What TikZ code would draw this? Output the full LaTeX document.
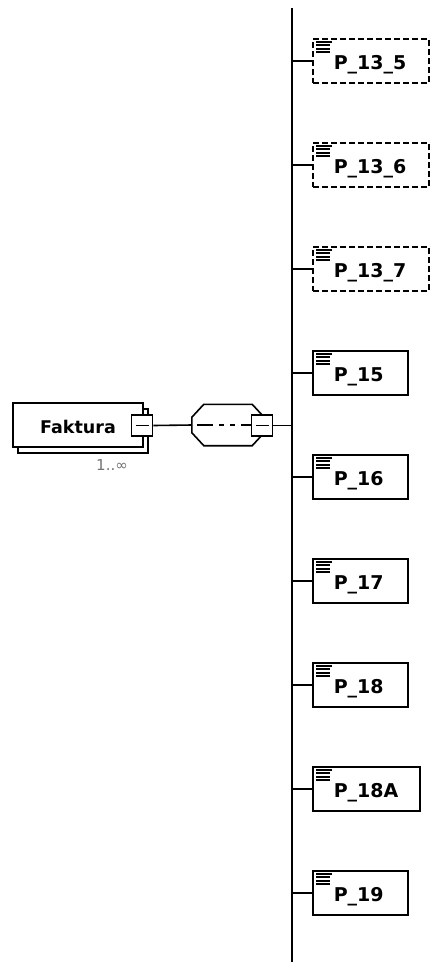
\documentclass[tikz,border=0pt]{standalone}
\usepackage{fontspec}
\setmainfont{DejaVu Sans}
\usetikzlibrary{positioning,calc,shadows}
\tikzset{
  elembox/.style={rectangle, draw=black, line width=1.6pt, fill=white,
                  minimum width=130pt, minimum height=44pt,
                  text height=18pt, text depth=2pt,
                  font=\fontsize{17.5}{20}\selectfont\bfseries},
  leafbox/.style={rectangle, draw=black, line width=1.6pt, fill=white,
                  anchor=west, minimum height=44pt, inner xsep=21pt,
                  align=left, text height=18pt, text depth=2pt,
                  font=\fontsize{19}{22}\selectfont\bfseries},
  reqbox/.style={leafbox},
  optbox/.style={leafbox, dash pattern=on 6pt off 3pt},
  minusbox/.style={rectangle, draw=black, line width=1.6pt, fill=white,
                   minimum width=21pt, minimum height=21pt, inner sep=0pt,
                   path picture={\draw[line width=1.4pt]
                     ([xshift=4pt]path picture bounding box.west) --
                     ([xshift=-4pt]path picture bounding box.east);}},
  seqbox/.style={rectangle, fill=white, minimum width=72pt,
                 minimum height=41pt, inner sep=0pt,
                 path picture={
                   \draw[line width=1.6pt]
                     ([xshift=5pt]path picture bounding box.west) --
                     (path picture bounding box.east);
                   \foreach \dx in {-12,-1,10}
                     \fill ([xshift=\dx pt]path picture bounding box.center)
                       +(-3,-3) rectangle +(3,3);}},
  conn/.style={line width=1.6pt},
}
\begin{document}
\begin{tikzpicture}[x=1pt, y=-1pt]
  \useasboundingbox (0,0) rectangle (430,962);

  % bus of the sequence
  \coordinate (bustop) at (292,8);
  \coordinate (busbot) at (292,962);
  \draw[conn] (bustop) -- (busbot);

  % element Faktura with its sequence
  \node[elembox, copy shadow={shadow xshift=5pt, shadow yshift=-6pt}]
    (faktura) at (78,425) {Faktura};
  \node[minusbox] (faktminus) at (142,425.5) {};
  \node[font=\fontsize{15}{17}\selectfont, text=black!55]
    (mult) at (112,465) {1..∞};
  \node[seqbox] (seq) at (228,425) {};
  \draw[conn] ([xshift=12pt]seq.north west) -- ([xshift=-12pt]seq.north east)
    -- ([yshift=-13pt]seq.north east) -- ([yshift=13pt]seq.south east)
    -- ([xshift=-12pt]seq.south east) -- ([xshift=12pt]seq.south west)
    -- ([yshift=13pt]seq.south west) -- ([yshift=-13pt]seq.north west)
    -- cycle;
  \node[minusbox] (seqminus) at (262,425.5) {};
  \draw[conn] (faktminus.east) -- (seq.west);
  \draw[conn] (seqminus.east) -- (seqminus.east -| bustop);

  % child elements
  \foreach \name/\txt/\w/\sty [count=\i from 0] in {
      p135/P\_13\_5/74pt/optbox, p136/P\_13\_6/74pt/optbox,
      p137/P\_13\_7/74pt/optbox, p15/P\_15/53pt/reqbox,
      p16/P\_16/53pt/reqbox, p17/P\_17/53pt/reqbox,
      p18/P\_18/53pt/reqbox, p18a/P\_18A/65pt/reqbox,
      p19/P\_19/53pt/reqbox}{
    \node[\sty, text width=\w] (\name) at (312,{61+104*\i}) {\txt};
    \draw[conn] (\name.west -| bustop) -- (\name.west);
    \foreach \k/\len in {0/16,1/14,2/14,3/14}
      \draw[line width=1.6pt] ([shift={(4,3.5+3.5*\k)}]\name.north west) -- ++(\len,0);
  }
\end{tikzpicture}
\end{document}
